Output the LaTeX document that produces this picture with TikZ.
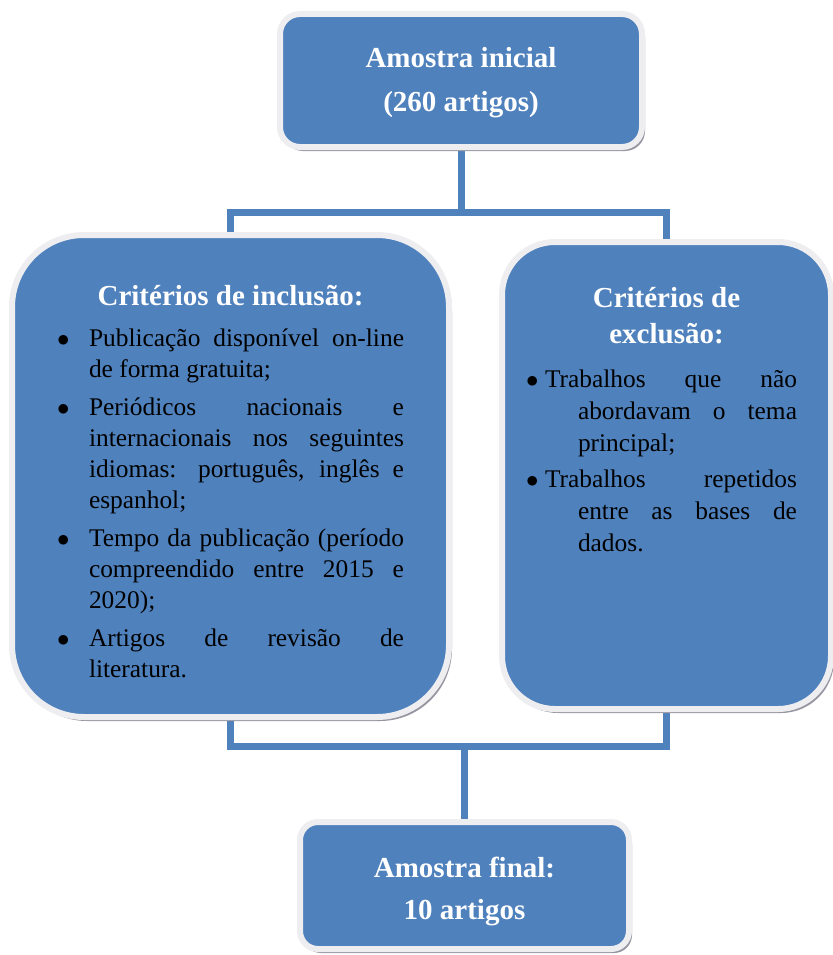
\documentclass[tikz,border=0pt]{standalone}
\usepackage{fontspec}
\setmainfont{Liberation Serif}
\usetikzlibrary{shadows,backgrounds}

\definecolor{boxblue}{RGB}{79,129,189}
\definecolor{glowgray}{RGB}{238,238,241}
\definecolor{shadegray}{RGB}{150,150,162}

% bullet item: width of bullet box, hanging indent, text
\newcommand\critem[3]{\par\hangindent=#2\hangafter=1\noindent\makebox[#1][l]{$\bullet$}#3\par}

\begin{document}
\begin{tikzpicture}[x=1pt,y=-1pt]
\tikzstyle{every node}=[inner sep=0pt, outer sep=0pt]
\tikzstyle{blockbox}=[rectangle, fill=boxblue, draw=glowgray, line width=6pt,
  drop shadow={shadow xshift=3pt, shadow yshift=-4pt, fill=shadegray, opacity=1}]
\tikzstyle{headtext}=[text=white, align=center, font=\bfseries\fontsize{29}{44}\selectfont]
\tikzstyle{link}=[draw=boxblue, line width=7pt]
\useasboundingbox (0,0) rectangle (832,955);

\draw (461,80.5) node (init) [blockbox, headtext, rounded corners=20pt,
  minimum width=362pt, minimum height=133pt] {\rule{0pt}{24pt}Amostra inicial\\(260 artigos)};

\draw (230.5,476) node (incl) [blockbox, rounded corners=72pt,
  minimum width=437pt, minimum height=482pt] {\parbox[c][382pt][t]{347pt}{%
  \hyphenpenalty=10000 \exhyphenpenalty=10000
  {\centering\color{white}\bfseries\fontsize{29}{36}\selectfont Critérios de inclusão:\par}
  \vspace{3pt}
  \fontsize{25.4}{31}\selectfont\parskip=7pt
  \critem{32pt}{32pt}{Publicação disponível on-line\linebreak de forma gratuita;}
  \critem{32pt}{32pt}{Periódicos nacionais e\linebreak internacionais nos seguintes\linebreak idiomas: português, inglês e\linebreak espanhol;}
  \critem{32pt}{32pt}{Tempo da publicação (período\linebreak compreendido entre 2015 e\linebreak 2020);}
  \critem{32pt}{32pt}{Artigos de revisão de\linebreak literatura.}}};

\draw (666.5,475.5) node (excl) [blockbox, rounded corners=53pt,
  minimum width=329pt, minimum height=467pt] {\parbox[c][377pt][t]{261pt}{%
  \hyphenpenalty=10000 \exhyphenpenalty=10000
  {\centering\color{white}\bfseries\fontsize{29}{36}\selectfont Critérios de\\exclusão:\par}
  \vspace{8pt}
  \fontsize{25.4}{32}\selectfont\parskip=4pt\leftskip=-10pt
  \critem{19pt}{52pt}{Trabalhos que não\linebreak abordavam o tema\linebreak principal;}
  \critem{19pt}{52pt}{Trabalhos repetidos\linebreak entre as bases de\linebreak dados.}}};

\draw (464.5,885.5) node (final) [blockbox, rounded corners=18pt,
  minimum width=329pt, minimum height=127pt, headtext,
  font=\bfseries\fontsize{29}{42}\selectfont] {\rule{0pt}{32pt}Amostra final:\\10 artigos};

\coordinate (split) at (465,212);
\coordinate (merge) at (464.5,746);

\begin{scope}[on background layer]
\draw[link] (init.south) -- (init.south |- split);
\draw[link] (incl.north) -- (incl.north |- split) -- (excl.north |- split) -- (excl.north);
\draw[link] (incl.south) -- (incl.south |- merge) -- (excl.south |- merge) -- (excl.south);
\draw[link] (merge) -- (final.north);
\end{scope}
\end{tikzpicture}
\end{document}
